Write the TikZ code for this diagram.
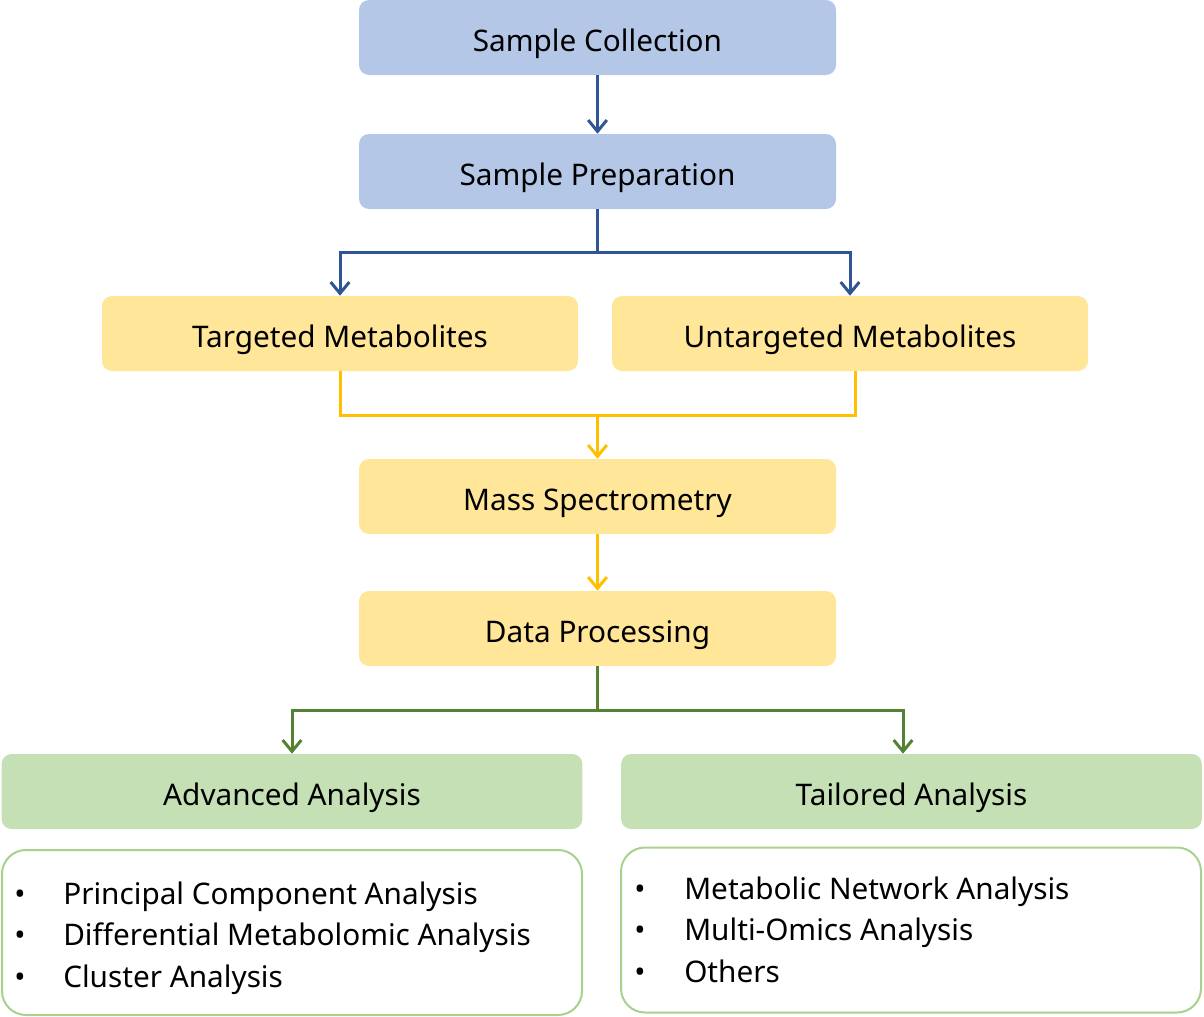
\documentclass[tikz,border=0pt]{standalone}
\usepackage{fontspec}
\setmainfont{Noto Sans}
\usetikzlibrary{arrows.meta}
\definecolor{cblue}{HTML}{B4C7E7}
\definecolor{lblue}{HTML}{2F5597}
\definecolor{cyel}{HTML}{FFE699}
\definecolor{lyel}{HTML}{FFC000}
\definecolor{cgreen}{HTML}{C5E0B4}
\definecolor{lgreen}{HTML}{548235}
\definecolor{bgreen}{HTML}{A9D18E}
\begin{document}
\begin{tikzpicture}[x=0.75pt,y=-0.75pt,
  box/.style={rectangle,rounded corners=7.5pt,minimum height=56.25pt,inner sep=0pt,font=\fontsize{22.3}{26}\selectfont,text=black,text height=20.25pt,text depth=0pt},
  mid/.style={box,minimum width=357.75pt},
  side/.style={box,minimum width=357pt,fill=cyel},
  big/.style={box,minimum width=435.5pt,fill=cgreen},
  listbox/.style={rectangle,rounded corners=18pt,draw=bgreen,line width=1.5pt,fill=white,minimum width=435pt,minimum height=123.75pt,inner sep=0pt},
  item/.style={anchor=base west,inner sep=0pt,font=\fontsize{22.3}{26}\selectfont},
  bul/.style={anchor=base,inner sep=0pt,font=\fontsize{22.3}{26}\selectfont},
  conn/.style={line width=2.25pt},
  tip/.style={-{Straight Barb[length=8.5pt,width=14pt,line width=2.25pt]}}
]
\useasboundingbox (0,0) rectangle (1204,1017);
\node[mid,fill=cblue] (SC) at (597.5,37.5) {Sample Collection};
\node[mid,fill=cblue] (SP) at (597.5,171.5) {Sample Preparation};
\node[side] (TM) at (340,333.5) {Targeted Metabolites};
\node[side] (UM) at (850,333.5) {Untargeted Metabolites};
\node[mid,fill=cyel] (MS) at (597.5,496.5) {Mass Spectrometry};
\node[mid,fill=cyel] (DP) at (597.5,628.5) {Data Processing};
\node[big] (AA) at (292,791.5) {Advanced Analysis};
\node[big] (TA) at (911.5,791.5) {Tailored Analysis};
\node[listbox] (LL) at (292,932.5) {};
\node[listbox] (LR) at (911,930) {};
% left list
\node[bul] (lb1) at (20,904) {•};
\node[item] (li1) at (63,904) {Principal Component Analysis};
\node[bul] (lb2) at (20,945.5) {•};
\node[item] (li2) at (63,945.5) {Differential Metabolomic Analysis};
\node[bul] (lb3) at (20,987) {•};
\node[item] (li3) at (63,987) {Cluster Analysis};
% right list
\node[bul] (rb1) at (640,899) {•};
\node[item] (ri1) at (684,899) {Metabolic Network Analysis};
\node[bul] (rb2) at (640,940.5) {•};
\node[item] (ri2) at (684,940.5) {Multi-Omics Analysis};
\node[bul] (rb3) at (640,982) {•};
\node[item] (ri3) at (684,982) {Others};
% blue connectors
\draw[conn,tip,lblue] (SC) -- (SP);
\coordinate (bj) at (597.5,252);
\draw[conn,lblue] (SP.south) -- (bj);
\draw[conn,tip,lblue] (bj) -| (TM.north);
\draw[conn,tip,lblue] (bj) -| (UM.north);
% yellow connectors
\coordinate (yj) at (597.5,415);
\draw[conn,lyel] (TM.south) |- (yj) -| ([xshift=3.75pt]UM.south);
\draw[conn,tip,lyel] (yj) -- (MS.north);
\draw[conn,tip,lyel] (MS) -- (DP);
% green connectors
\coordinate (gj) at (597.5,710);
\draw[conn,lgreen] (DP.south) -- (gj);
\draw[conn,tip,lgreen] (gj) -| (AA.north);
\draw[conn,tip,lgreen] (gj) -| ([xshift=-6.375pt]TA.north);
\end{tikzpicture}
\end{document}
